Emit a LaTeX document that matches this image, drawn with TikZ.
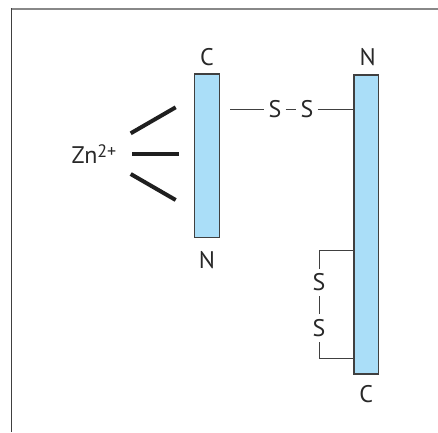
\documentclass[tikz,border=0pt]{standalone}
\usepackage{fontspec}
\setmainfont{PT Sans}
\usetikzlibrary{positioning}
\definecolor{chainblue}{RGB}{170,222,248}
\definecolor{chainline}{RGB}{64,64,64}
\definecolor{framegray}{RGB}{136,136,136}
\definecolor{textgray}{RGB}{40,40,40}

\begin{document}
\begin{tikzpicture}[x=1pt, y=-1pt,
    chain/.style={draw=chainline, fill=chainblue, line width=1.5pt, minimum width=24.6pt, inner sep=0pt},
    lbl/.style={font=\fontsize{24}{26}\selectfont, text=textgray, inner sep=0pt},
    ssym/.style={lbl, inner xsep=4pt, inner ysep=5pt},
    bond/.style={draw=chainline, line width=1pt},
    znline/.style={line width=4pt, draw=black!88}]
  \useasboundingbox (0,0) rectangle (438,432);
  % frame, cut off on the right and at the bottom
  \draw[framegray, line width=2pt] (10.5,9) -- (438,9);
  \draw[chainline, line width=1.2pt] (11.5,8) -- (11.5,432);
  % the two chains
  \node[chain, minimum height=163.3pt] (lbar) at (207,155.7) {};
  \node[chain, minimum height=299pt] (rbar) at (366.3,224.5) {};
  \node[lbl, above=7.5pt of lbar] (lc) {C};
  \node[lbl, below=13pt of lbar] (ln) {N};
  \node[lbl, above=8.5pt of rbar.north, xshift=1.5pt] (rn) {N};
  \node[lbl, below=10pt of rbar.south] (rc) {C};
  % zinc
  \node[lbl] (zn) at (94,154) {Zn\raisebox{6.5pt}{\fontsize{18}{18}\selectfont 2+}};
  \draw[znline] (130.7,133.3) -- (175.7,107.3);
  \draw[znline] (132,153.7) -- (179,153.7);
  \draw[znline] (130.7,174) -- (175.7,200);
  % interchain S--S
  \coordinate (ssl) at (230,109.3);
  \node[ssym] (s1) at (275,109.3) {S};
  \node[ssym] (s2) at (307,109.3) {S};
  \draw[bond] (ssl) -- (s1) -- (s2) -- (s2 -| rbar.west);
  % intrachain S--S
  \coordinate (ttop) at (319,250);
  \coordinate (tbot) at (319,358.3);
  \node[ssym] (s3) at (319,282.5) {S};
  \node[ssym] (s4) at (319,328.3) {S};
  \draw[bond] (s3) -- (ttop) -- (ttop -| rbar.west);
  \draw[bond] (s3) -- (s4);
  \draw[bond] (s4) -- (tbot) -- (tbot -| rbar.west);
\end{tikzpicture}
\end{document}
